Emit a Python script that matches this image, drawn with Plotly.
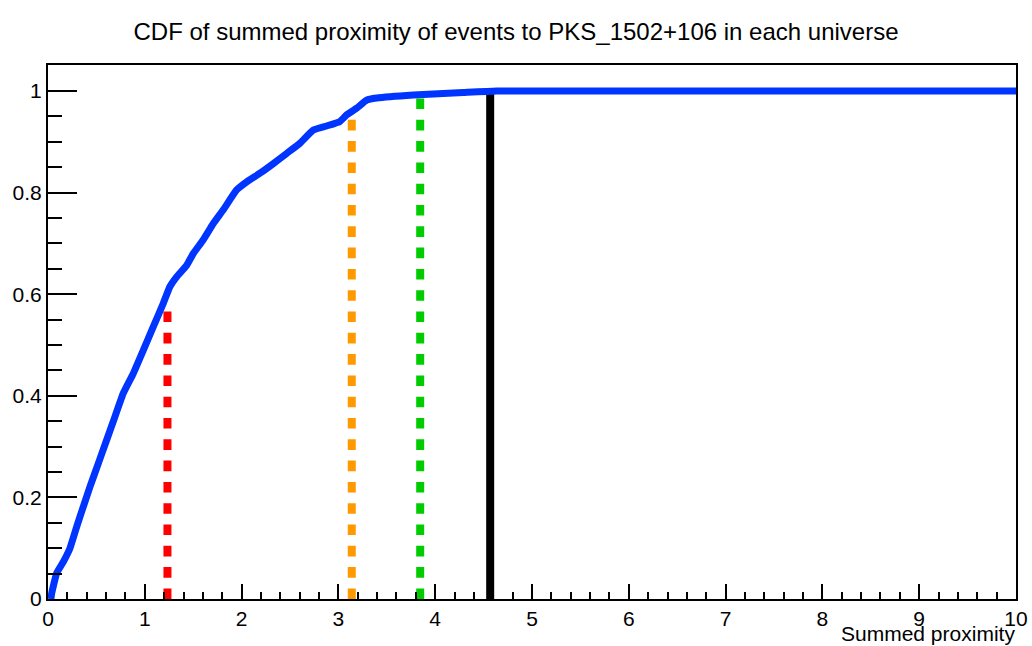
import plotly.graph_objects as go

# Cumulative distribution of summed proximity (x) and fraction of universes (y)
cdf_x = [0.03, 0.038, 0.09, 0.158, 0.227, 0.296, 0.365, 0.434, 0.52, 0.606, 0.692,
         0.778, 0.881, 0.985, 1.088, 1.191, 1.26, 1.329, 1.433, 1.501, 1.604, 1.708,
         1.811, 1.949, 2.053, 2.19, 2.328, 2.466, 2.603, 2.741, 2.879, 3.016, 3.086,
         3.189, 3.292, 3.396, 3.774, 4.29, 4.635, 10.0]
cdf_y = [0.0, 0.011, 0.051, 0.073, 0.100, 0.142, 0.182, 0.221, 0.267, 0.313, 0.359,
         0.405, 0.444, 0.490, 0.536, 0.582, 0.615, 0.634, 0.657, 0.680, 0.707, 0.739,
         0.766, 0.805, 0.821, 0.838, 0.857, 0.877, 0.897, 0.923, 0.931, 0.940, 0.953,
         0.966, 0.982, 0.986, 0.992, 0.997, 1.0, 1.0]

# Reference markers: position on x and the CDF height each one reaches
marker_x = [1.234, 3.138, 3.845, 4.568]
marker_top = [0.567, 0.946, 0.989, 0.998]
marker_colors = ["#ff0000", "#ff9900", "#00cc00", "#000000"]
marker_dash = ["10.6px,10.7px", "10.6px,10.7px", "10.6px,10.7px", "solid"]

x_ticks = list(range(0, 11))
y_ticks = [0, 0.2, 0.4, 0.6, 0.8, 1]
y_tick_text = ["0", "0.2", "0.4", "0.6", "0.8", "1"]

FONT = "Liberation Sans, Arial, Helvetica, sans-serif"

fig = go.Figure()

for mx, mt, mc, md in zip(marker_x, marker_top, marker_colors, marker_dash):
    fig.add_trace(go.Scatter(
        x=[mx, mx], y=[0, mt], mode="lines",
        line=dict(color=mc, width=8, dash=md),
        hoverinfo="skip", showlegend=False,
    ))

fig.add_trace(go.Scatter(
    x=cdf_x, y=cdf_y, mode="lines",
    line=dict(color="#0034ff", width=7, shape="spline", smoothing=0.4),
    showlegend=False,
))

fig.update_layout(
    width=1032, height=646,
    margin=dict(l=48, r=16, t=65, b=47, autoexpand=False),
    paper_bgcolor="white", plot_bgcolor="white",
    font=dict(family=FONT, color="black", size=21),
    title=dict(
        text="CDF of summed proximity of events to PKS_1502+106 in each universe",
        x=0.5, xanchor="center", xref="container",
        y=1 - 32 / 646, yref="container", yanchor="middle",
        font=dict(family=FONT, size=24, color="black"),
    ),
    xaxis=dict(
        range=[0, 10], showgrid=False, zeroline=False, automargin=False,
        showline=True, linecolor="black", linewidth=2, mirror=True,
        ticks="inside", ticklen=15, tickwidth=2, tickcolor="black",
        tickvals=x_ticks, ticktext=[str(v) for v in x_ticks],
        tickfont=dict(size=21),
        minor=dict(ticks="inside", ticklen=7, tickwidth=2, tickcolor="black",
                   dtick=0.2, tick0=0, showgrid=False),
    ),
    yaxis=dict(
        range=[0, 1.051], showgrid=False, zeroline=False, automargin=False,
        showline=True, linecolor="black", linewidth=2, mirror=True,
        ticks="inside", ticklen=29, tickwidth=2, tickcolor="black",
        tickvals=y_ticks, ticktext=y_tick_text,
        tickfont=dict(size=21),
        minor=dict(ticks="inside", ticklen=14, tickwidth=2, tickcolor="black",
                   dtick=0.05, tick0=0, showgrid=False),
    ),
    annotations=[dict(
        text="Summed proximity", xref="paper", yref="paper",
        x=1, y=0, xanchor="right", yanchor="top", yshift=-22,
        borderpad=0, showarrow=False,
        font=dict(family=FONT, size=21, color="black"),
    )],
)

fig.write_html("out.html")
